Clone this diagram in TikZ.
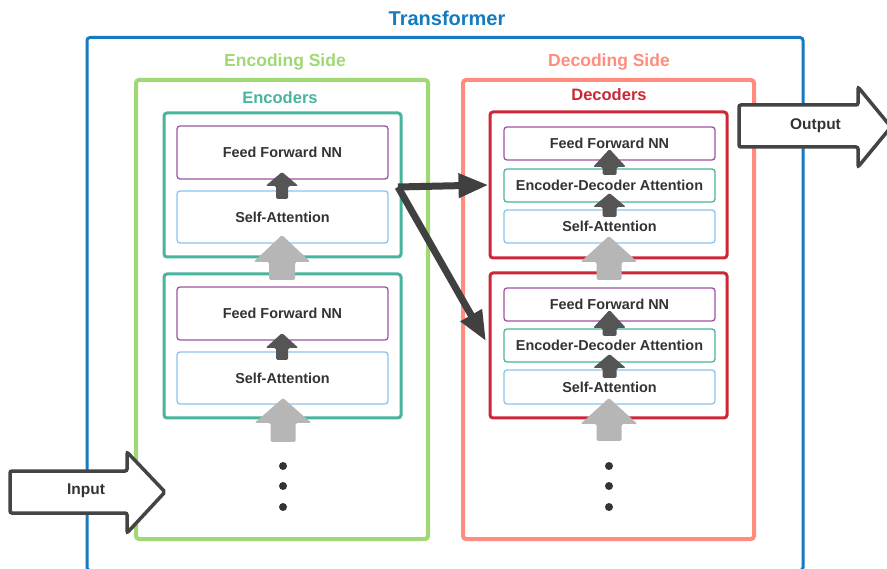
\documentclass[tikz,border=0pt]{standalone}
\usepackage{fontspec}
\setmainfont{Liberation Sans}
\usetikzlibrary{arrows.meta,calc}
\definecolor{tblue}{RGB}{22,122,191}
\definecolor{egreen}{RGB}{160,216,118}
\definecolor{dsalmon}{RGB}{255,140,125}
\definecolor{eteal}{RGB}{72,180,155}
\definecolor{dred}{RGB}{205,38,55}
\definecolor{ffpurple}{RGB}{155,85,160}
\definecolor{salblue}{RGB}{140,195,235}
\definecolor{txt}{RGB}{51,51,51}
\definecolor{darkarr}{RGB}{85,85,85}
\definecolor{grayarr}{RGB}{182,182,182}
\definecolor{bigarr}{RGB}{64,64,64}
\definecolor{ioline}{RGB}{68,68,68}
\newcommand{\blockup}[7]{%
  \fill[#7, rounded corners=1.5pt] (#1-#6,#4) -- (#1-#6,#3) -- (#1-#5,#3) -- (#1,#2) -- (#1+#5,#3) -- (#1+#6,#3) -- (#1+#6,#4) -- cycle;}
\begin{document}
\begin{tikzpicture}[x=1pt,y=-1pt,
  box/.style={rectangle, inner sep=0pt, rounded corners=3pt},
  tbox/.style={box, draw=tblue, line width=3pt},
  sidebox/.style={box, line width=4pt, minimum width=292pt, minimum height=459pt},
  encbox/.style={box, draw=eteal, line width=3pt, minimum width=237pt},
  decbox/.style={box, draw=dred, line width=3pt, minimum width=237pt},
  inner/.style={box, line width=1.3pt, minimum width=211pt, text=txt, font=\fontsize{14.4}{16}\selectfont\bfseries},
  ffbox/.style={inner, draw=ffpurple},
  sabox/.style={inner, draw=salblue},
  eabox/.style={inner, draw=eteal},
  title/.style={font=\fontsize{#1}{#1}\selectfont\bfseries},
  bigarrow/.style={draw=bigarr, line width=7pt, -{Triangle[length=30pt,width=23pt]}},
  ioarrow/.style={draw=ioline, fill=white, line width=3.5pt, rounded corners=2pt},
  iotext/.style={text=txt, font=\fontsize{15.5}{16}\selectfont\bfseries}
]
\useasboundingbox (0,0) rectangle (887,569);

% Transformer
\node[tbox, minimum width=716pt, minimum height=533pt] (tr) at (445,304) {};
\node[title=20, text=tblue] (trt) at (447,18) {Transformer};

% sides
\node[sidebox, draw=egreen] (es) at (282,309.5) {};
\node[sidebox, draw=dsalmon, minimum width=291pt] (ds) at (608.5,309.5) {};
\node[title=17.5, text=egreen] (est) at (285,62) {Encoding Side};
\node[title=17.5, text=dsalmon] (dst) at (609,62) {Decoding Side};
\node[title=16.5, text=eteal] (enct) at (280,98) {Encoders};
\node[title=16.5, text=dred] (dect) at (609,95) {Decoders};

% encoders
\node[encbox, minimum height=144pt] (e1) at (282.5,185) {};
\node[encbox, minimum height=144pt] (e2) at (282.5,346) {};
\node[ffbox, minimum height=53pt] (e1ff) at (282.5,152.5) {Feed Forward NN};
\node[sabox, minimum height=52pt] (e1sa) at (282.5,217) {Self-Attention};
\node[ffbox, minimum height=53pt] (e2ff) at (282.5,313.5) {Feed Forward NN};
\node[sabox, minimum height=52pt] (e2sa) at (282.5,378) {Self-Attention};

% decoders
\node[decbox, minimum height=146pt] (d1) at (608.5,185) {};
\node[decbox, minimum height=145pt] (d2) at (608.5,345.5) {};
\node[ffbox, minimum height=33pt] (d1ff) at (609.5,143.5) {Feed Forward NN};
\node[eabox, minimum height=33pt] (d1ea) at (609.5,185.5) {Encoder-Decoder Attention};
\node[sabox, minimum height=33pt] (d1sa) at (609.5,226.5) {Self-Attention};
\node[ffbox, minimum height=33pt] (d2ff) at (609.5,304.5) {Feed Forward NN};
\node[eabox, minimum height=33pt] (d2ea) at (609.5,345.5) {Encoder-Decoder Attention};
\node[sabox, minimum height=34pt] (d2sa) at (609.5,387) {Self-Attention};

% small dark up arrows (encoder)
\blockup{282}{172}{186}{199}{16.5}{6}{darkarr}
\blockup{282}{333}{348}{360}{16.5}{6}{darkarr}
% small dark up arrows (decoder)
\blockup{609.5}{149}{167}{175}{16.5}{7}{darkarr}
\blockup{609.5}{193}{207}{217}{16.5}{7}{darkarr}
\blockup{609.5}{310}{328}{336}{16.5}{7}{darkarr}
\blockup{609.5}{354}{368}{378}{16.5}{7}{darkarr}

% large gray up arrows
\blockup{282}{235}{262}{280}{28.5}{13}{grayarr}
\blockup{283}{398}{423}{442}{28.5}{12.5}{grayarr}
\blockup{609}{236}{262}{280}{28.5}{12.5}{grayarr}
\blockup{609}{398}{424}{441}{28.5}{12.5}{grayarr}

% dots
\foreach \yy in {466,486,507} {
  \fill[txt] (283,\yy) circle (4pt);
  \fill[txt] (609,\yy) circle (4pt);
}

% encoder -> decoder arrows
\coordinate (e1out) at (398,187);
\draw[bigarrow] (e1out) -- (d1.west);
\draw[bigarrow, shorten >=5pt] (e1out) -- (d2.west);

% input / output arrows
\draw[ioarrow] (10,471) -- (127,471) -- (127,452) -- (165,492) -- (127,533) -- (127,513) -- (10,513) -- cycle;
\node[iotext] (in) at (86,491) {Input};
\draw[ioarrow] (739,105) -- (858,105) -- (858,87) -- (891,127) -- (858,167) -- (858,147) -- (739,147) -- cycle;
\node[iotext] (out) at (815.5,126) {Output};
\end{tikzpicture}
\end{document}
